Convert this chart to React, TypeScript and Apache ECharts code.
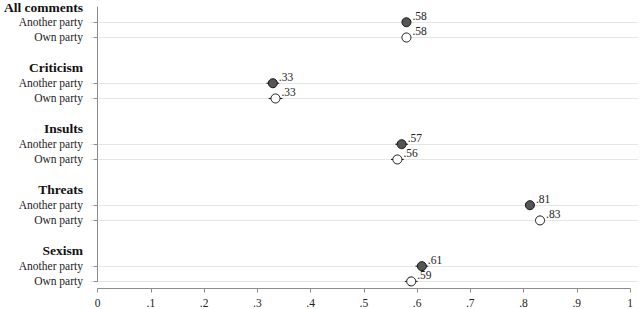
import React, { useEffect, useRef } from "react";
import * as echarts from "echarts";

const groups = ["All comments", "Criticism", "Insults", "Threats", "Sexism"];
const rowLabels = ["Another party", "Own party"];
const anotherMean = [0.58, 0.329, 0.571, 0.812, 0.609];
const anotherLow = [0.576, 0.317, 0.559, 0.807, 0.597];
const anotherHigh = [0.584, 0.341, 0.583, 0.817, 0.621];
const ownMean = [0.58, 0.334, 0.563, 0.831, 0.589];
const ownLow = [0.576, 0.321, 0.551, 0.826, 0.577];
const ownHigh = [0.584, 0.347, 0.575, 0.836, 0.601];
const xTickStep = 0.1;

const FONT = "'Liberation Serif', 'Times New Roman', serif";

export default function App() {
  const ref = useRef<HTMLDivElement>(null);
  useEffect(() => {
    if (!ref.current) return;
    const chart = echarts.init(ref.current, undefined, { renderer: "svg" });

    // build rows: header, another, own, gap (no gap after last)
    const cats: string[] = [];
    const labelMap: Record<string, { text: string; kind: string }> = {};
    const rowIndex: { a: number; o: number }[] = [];
    groups.forEach((g, gi) => {
      const h = "h" + gi, a = "a" + gi, o = "o" + gi;
      cats.push(h); labelMap[h] = { text: g, kind: "h" };
      cats.push(a); labelMap[a] = { text: rowLabels[0], kind: "r" };
      rowIndex.push({ a: cats.length - 1, o: cats.length });
      cats.push(o); labelMap[o] = { text: rowLabels[1], kind: "r" };
      if (gi < groups.length - 1) {
        const s = "g" + gi;
        cats.push(s); labelMap[s] = { text: "", kind: "g" };
      }
    });

    const zeroPx = 97.7, onePx = 630, gridL = 90, gridR = 638;
    const unit = onePx - zeroPx;
    const xmin = (gridL - zeroPx) / unit;
    const xmax = (gridR - zeroPx) / unit;

    const fmt = (v: number) => v.toFixed(2).replace(/^0/, "");

    const anotherData = groups.map((_, i) => [anotherMean[i], rowIndex[i].a]);
    const ownData = groups.map((_, i) => [ownMean[i], rowIndex[i].o]);
    const ciData: number[][] = [];
    groups.forEach((_, i) => {
      ciData.push([anotherLow[i], anotherHigh[i], rowIndex[i].a]);
      ciData.push([ownLow[i], ownHigh[i], rowIndex[i].o]);
    });

    const isRow = (idx: number) => labelMap[cats[idx]].kind === "r";

    const labelCommon = {
      show: true,
      position: "right" as const,
      distance: 1,
      offset: [0, -6],
      fontFamily: FONT,
      fontSize: 11.5,
      color: "#222",
      formatter: (p: any) => fmt(p.value[0]),
    };

    chart.setOption({
      animation: false,
      grid: [
        { left: gridL, right: 640 - gridR, top: 6, bottom: 309 - 281.4 },
        { left: zeroPx, right: 640 - onePx, top: 280, height: 8.5 },
      ],
      xAxis: [
        { type: "value", gridIndex: 0, min: xmin, max: xmax, show: false },
        {
          type: "value",
          gridIndex: 1,
          min: 0,
          max: 1,
          interval: xTickStep,
          position: "bottom",
          axisLine: { show: true, lineStyle: { color: "#8c8c8c", width: 1 } },
          axisTick: { show: true, length: 4, inside: false, lineStyle: { color: "#8c8c8c" } },
          splitLine: { show: false },
          axisLabel: {
            margin: 8,
            fontFamily: FONT,
            fontSize: 11.5,
            color: "#222",
            formatter: (v: number) => (v === 0 ? "0" : v === 1 ? "1" : fmt(v).replace(/0$/, "")),
          },
        },
      ],
      yAxis: [
        {
          type: "category",
          gridIndex: 0,
          data: cats,
          inverse: true,
          boundaryGap: false,
          axisLine: { show: true, lineStyle: { color: "#8c8c8c", width: 1 } },
          axisTick: {
            show: true,
            length: 4,
            interval: (idx: number) => isRow(idx),
            lineStyle: { color: "#8c8c8c" },
          },
          splitLine: {
            show: true,
            interval: (idx: number) => isRow(idx),
            lineStyle: { color: "#e6e6e6", width: 1 },
          },
          axisLabel: {
            interval: 0,
            margin: 7,
            fontFamily: FONT,
            fontSize: 11.5,
            color: "#222",
            formatter: (v: string) => {
              const m = labelMap[v];
              if (!m || !m.text) return "";
              return m.kind === "h" ? "{h|" + m.text + "}" : m.text;
            },
            rich: {
              h: { fontFamily: FONT, fontSize: 13.5, fontWeight: "bold", color: "#111" },
            },
          },
        },
        { type: "value", gridIndex: 1, show: false },
      ],
      series: [
        {
          type: "custom",
          xAxisIndex: 0,
          yAxisIndex: 0,
          z: 1,
          data: ciData,
          encode: { x: [0, 1], y: 2 },
          renderItem: (params: any, api: any) => {
            const p1 = api.coord([api.value(0), api.value(2)]);
            const p2 = api.coord([api.value(1), api.value(2)]);
            return {
              type: "line",
              shape: { x1: p1[0], y1: p1[1], x2: p2[0], y2: p2[1] },
              style: { stroke: "#111", lineWidth: 1 },
            };
          },
        },
        {
          type: "scatter",
          xAxisIndex: 0,
          yAxisIndex: 0,
          z: 3,
          symbol: "circle",
          symbolSize: 9,
          data: anotherData,
          itemStyle: { color: "#555555", borderColor: "#111", borderWidth: 1, opacity: 1 },
          label: labelCommon,
        },
        {
          type: "scatter",
          xAxisIndex: 0,
          yAxisIndex: 0,
          z: 3,
          symbol: "circle",
          symbolSize: 9,
          data: ownData,
          itemStyle: { color: "#ffffff", borderColor: "#111", borderWidth: 1, opacity: 1 },
          label: labelCommon,
        },
      ],
    });
    return () => chart.dispose();
  }, []);

  return (
    <div
      ref={ref}
      style={{ position: "absolute", left: 0, top: 0, width: 640, height: 309, background: "#fff" }}
    />
  );
}
